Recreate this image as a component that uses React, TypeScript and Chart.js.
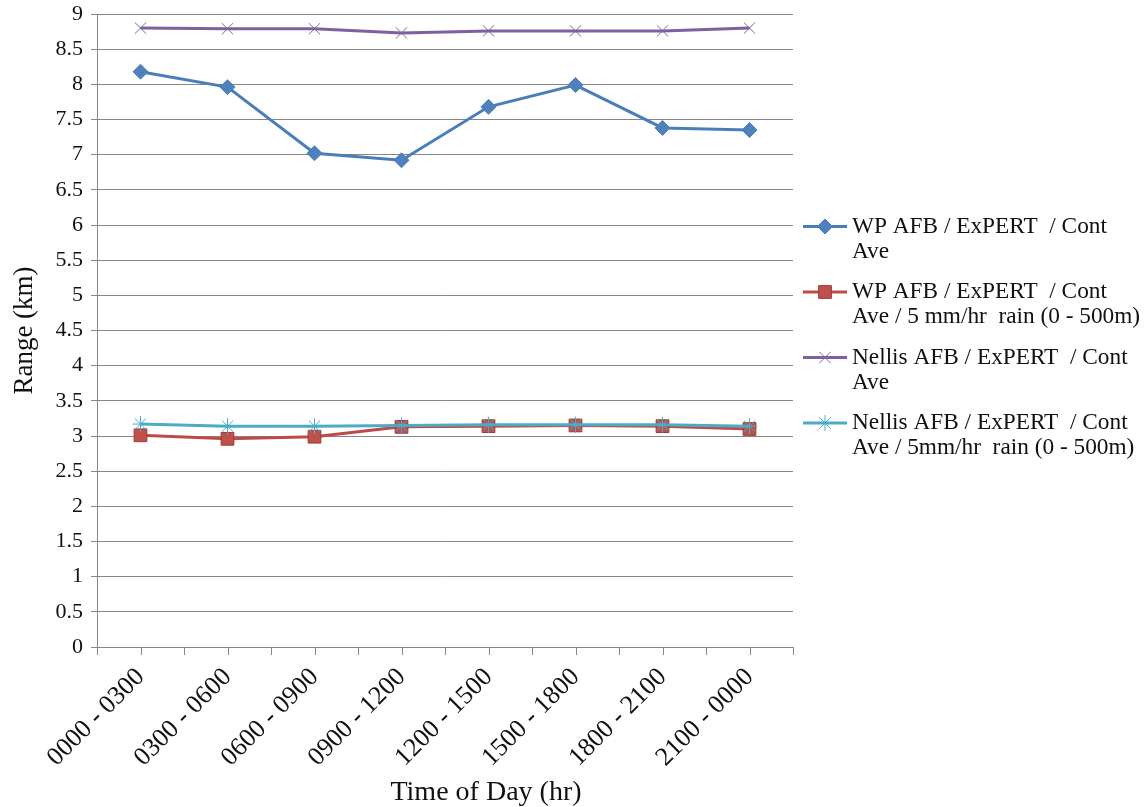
import { useEffect, useRef } from 'react';
import { Chart, registerables } from 'chart.js';
import { drawPoint } from 'chart.js/helpers';

Chart.register(...registerables);

// Time-of-day bins along the x axis
const timeSlots = [
  '0000 - 0300',
  '0300 - 0600',
  '0600 - 0900',
  '0900 - 1200',
  '1200 - 1500',
  '1500 - 1800',
  '1800 - 2100',
  '2100 - 0000',
];

// Detection range (km) per bin
const wpAve = [8.18, 7.96, 7.02, 6.92, 7.68, 7.99, 7.38, 7.35];
const wpRain = [3.01, 2.96, 2.99, 3.13, 3.14, 3.15, 3.14, 3.1];
const nellisAve = [8.8, 8.79, 8.79, 8.73, 8.76, 8.76, 8.76, 8.8];
const nellisRain = [3.17, 3.14, 3.14, 3.15, 3.16, 3.16, 3.16, 3.14];

// Legend text, one entry per series, wrapped as in the legend box
const seriesNames = [
  ['WP AFB / ExPERT  / Cont', 'Ave'],
  ['WP AFB / ExPERT  / Cont', 'Ave / 5 mm/hr  rain (0 - 500m)'],
  ['Nellis AFB / ExPERT  / Cont', 'Ave'],
  ['Nellis AFB / ExPERT  / Cont', 'Ave / 5mm/hr  rain (0 - 500m)'],
];

const yTitle = 'Range (km)';
const xTitle = 'Time of Day (hr)';

const SERIF = '"Liberation Serif", "Times New Roman", serif';
const GRID = '#868686';

// Extra tick marks at each category centre (boundary ticks come from the grid)
const centreTicks = {
  id: 'centreTicks',
  afterDraw(chart: any) {
    const { ctx } = chart;
    const x = chart.scales.x;
    ctx.save();
    ctx.strokeStyle = GRID;
    ctx.lineWidth = 1;
    ctx.beginPath();
    for (let i = 0; i < timeSlots.length; i++) {
      const px = Math.round(x.getPixelForValue(i)) + 0.5;
      ctx.moveTo(px, x.top);
      ctx.lineTo(px, x.top + 8);
    }
    ctx.stroke();
    ctx.restore();
  },
};

// Right-hand legend with line + marker samples and wrapped text,
// plus the x-axis title
const sideLegend = {
  id: 'sideLegend',
  afterDraw(chart: any) {
    const { ctx, chartArea } = chart;
    ctx.save();
    const x0 = chartArea.right + 10;
    const lineH = 25;
    const pitch = 65.5;
    const first = (chartArea.top + chartArea.bottom) / 2 - 104;
    chart.data.datasets.forEach((ds: any, i: number) => {
      const cy = first + i * pitch;
      ctx.strokeStyle = ds.borderColor;
      ctx.lineWidth = 3;
      ctx.beginPath();
      ctx.moveTo(x0, cy);
      ctx.lineTo(x0 + 44, cy);
      ctx.stroke();
      ctx.fillStyle = ds.pointBackgroundColor;
      ctx.strokeStyle = ds.pointBorderColor;
      ctx.lineWidth = ds.pointBorderWidth;
      drawPoint(
        ctx,
        {
          pointStyle: ds.pointStyle,
          rotation: 0,
          radius: ds.pointRadius,
          borderWidth: ds.pointBorderWidth,
        },
        x0 + 22,
        cy
      );
      ctx.fillStyle = '#111';
      ctx.font = `23.3px ${SERIF}`;
      ctx.textBaseline = 'middle';
      ctx.textAlign = 'left';
      seriesNames[i].forEach((t, k) => {
        ctx.fillText(t, x0 + 49, cy + k * lineH);
      });
    });

    ctx.font = `28px ${SERIF}`;
    ctx.fillStyle = '#111';
    ctx.textAlign = 'center';
    ctx.textBaseline = 'middle';
    ctx.fillText(xTitle, 486, chart.height - 14);
    ctx.restore();
  },
};

export default function App() {
  const canvasRef = useRef<HTMLCanvasElement | null>(null);

  useEffect(() => {
    if (!canvasRef.current) return;
    const chart = new Chart(canvasRef.current, {
      type: 'line',
      data: {
        labels: timeSlots,
        datasets: [
          {
            label: seriesNames[0].join(' '),
            data: wpAve,
            borderColor: '#4A7EBB',
            borderWidth: 3,
            pointStyle: 'rectRot',
            pointRadius: 7.5,
            pointBackgroundColor: '#4F81BD',
            pointBorderColor: '#4A7EBB',
            pointBorderWidth: 1,
            tension: 0,
            order: 2,
          },
          {
            label: seriesNames[1].join(' '),
            data: wpRain,
            borderColor: '#BE4B48',
            borderWidth: 3,
            pointStyle: 'rect',
            pointRadius: 9,
            pointBackgroundColor: '#C0504D',
            pointBorderColor: '#9A3B38',
            pointBorderWidth: 1,
            tension: 0,
            order: 3,
          },
          {
            label: seriesNames[2].join(' '),
            data: nellisAve,
            borderColor: '#7D60A0',
            borderWidth: 3,
            pointStyle: 'crossRot',
            pointRadius: 8,
            pointBackgroundColor: '#8064A2',
            pointBorderColor: '#8064A2',
            pointBorderWidth: 1,
            tension: 0,
            order: 4,
          },
          {
            label: seriesNames[3].join(' '),
            data: nellisRain,
            borderColor: '#4BACC6',
            borderWidth: 3,
            pointStyle: 'star',
            pointRadius: 8,
            pointBackgroundColor: '#4BACC6',
            pointBorderColor: '#4BACC6',
            pointBorderWidth: 1,
            tension: 0,
            order: 1,
          },
        ],
      },
      options: {
        animation: false,
        responsive: true,
        maintainAspectRatio: false,
        layout: { padding: { top: 14, right: 352, bottom: 0, left: 0 } },
        plugins: {
          legend: { display: false },
          tooltip: { enabled: false },
        },
        scales: {
          x: {
            type: 'category',
            offset: true,
            afterFit(scale: any) {
              scale.height = 160;
            },
            grid: {
              display: true,
              offset: true,
              drawOnChartArea: false,
              drawTicks: true,
              tickLength: 8,
              color: GRID,
            },
            border: { display: true, color: GRID, width: 1 },
            ticks: {
              minRotation: 45,
              maxRotation: 45,
              autoSkip: false,
              padding: 7,
              color: '#111',
              font: { family: SERIF, size: 26 },
            },
          },
          y: {
            min: 0,
            max: 9,
            afterFit(scale: any) {
              scale.width = 97;
              scale.paddingTop = 0;
              scale.paddingBottom = 0;
            },
            grid: {
              color: GRID,
              lineWidth: 1,
              drawTicks: true,
              tickLength: 6,
            },
            border: { display: true, color: GRID, width: 1 },
            ticks: {
              stepSize: 0.5,
              padding: 8,
              color: '#111',
              font: { family: SERIF, size: 22 },
              callback: (v: any) => String(Number(v)),
            },
            title: {
              display: true,
              text: yTitle,
              color: '#111',
              padding: { top: 9, bottom: 0 },
              font: { family: SERIF, size: 27 },
            },
          },
        },
      },
      plugins: [centreTicks, sideLegend],
    });
    return () => chart.destroy();
  }, []);

  return (
    <div style={{ position: 'fixed', left: 0, top: 0, width: 1145, height: 807, background: '#fff' }}>
      <canvas ref={canvasRef} />
    </div>
  );
}
